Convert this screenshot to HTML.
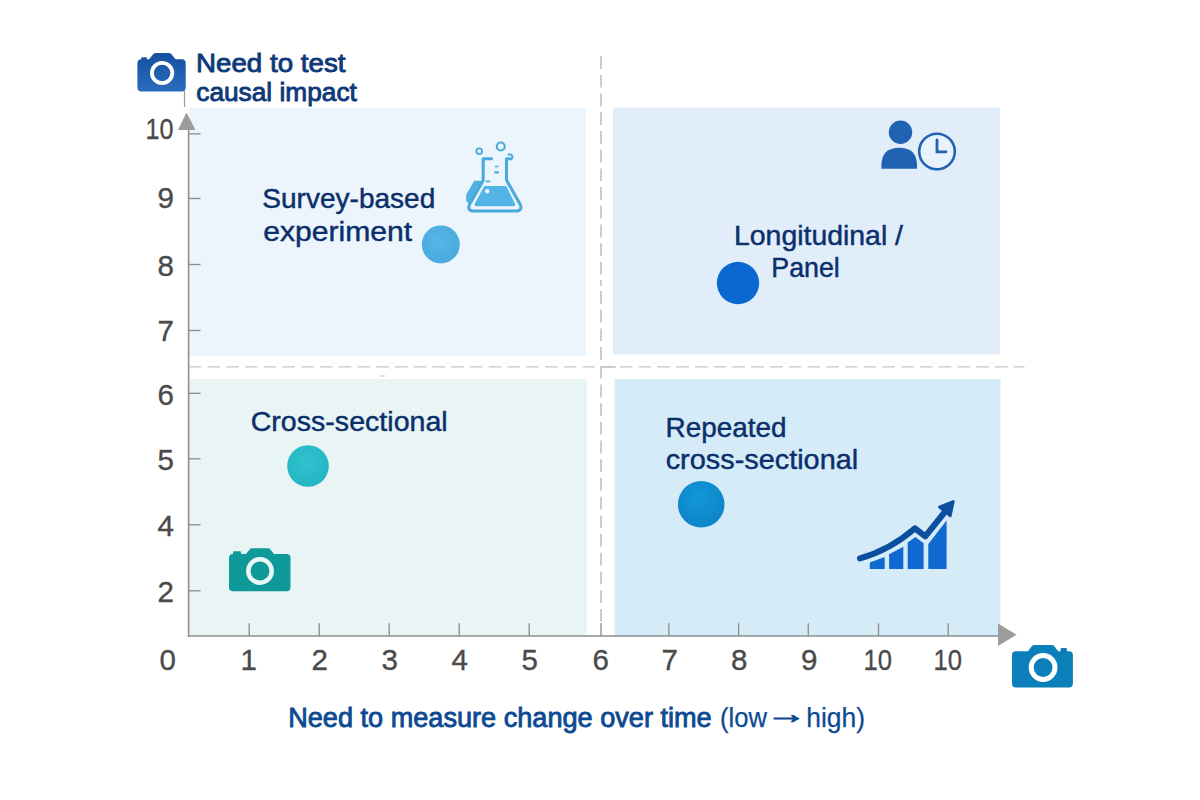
<!DOCTYPE html>
<html lang="en">
<head>
<meta charset="utf-8">
<title>Survey design quadrant chart</title>
<style>
  html,body{margin:0;padding:0;background:#ffffff;}
  body{width:1200px;height:800px;overflow:hidden;font-family:"Liberation Sans",sans-serif;}
  svg{display:block;}
  text{font-family:"Liberation Sans",sans-serif;}
  .num{font-size:29.5px;fill:#4a4a4a;stroke:#4a4a4a;stroke-width:0.35;}
  .lbl{font-size:27.5px;fill:#0b2f6b;stroke:#0b2f6b;stroke-width:0.45;}
  .ttl{font-size:26.5px;fill:#0c3a78;stroke:#0c3a78;stroke-width:0.9;}
  .xttl{font-size:27px;fill:#0c4a92;stroke:#0c4a92;stroke-width:0.25;}
</style>
</head>
<body>
<svg width="1200" height="800" viewBox="0 0 1200 800">
  <defs>
    <linearGradient id="gCamBlue" x1="0" y1="0" x2="0" y2="1">
      <stop offset="0" stop-color="#174f9f"/><stop offset="1" stop-color="#2a6dbd"/>
    </linearGradient>
    <radialGradient id="gDot1" cx="0.45" cy="0.4" r="0.7">
      <stop offset="0" stop-color="#57b6e6"/><stop offset="1" stop-color="#45a8dc"/>
    </radialGradient>
    <radialGradient id="gDot3" cx="0.45" cy="0.4" r="0.7">
      <stop offset="0" stop-color="#2fc3cf"/><stop offset="1" stop-color="#22b3c0"/>
    </radialGradient>
    <radialGradient id="gDot4" cx="0.45" cy="0.35" r="0.75">
      <stop offset="0" stop-color="#1397d8"/><stop offset="1" stop-color="#0a82c4"/>
    </radialGradient>
  </defs>

  <!-- quadrant panels -->
  <rect x="189" y="108" width="397" height="248" fill="#ecf5fc"/>
  <rect x="613" y="107.5" width="387" height="247" fill="#e1eefa"/>
  <rect x="189" y="379" width="398" height="257" fill="#e8f5f4"/>
  <rect x="614.5" y="379" width="386" height="257" fill="#d5ecf8"/>

  <!-- dashed dividers -->
  <line x1="601" y1="56.2" x2="601" y2="276" stroke="#c4c4c4" stroke-width="1.7" stroke-dasharray="12.7 6"/>
  <line x1="601" y1="280" x2="601" y2="286" stroke="#c4c4c4" stroke-width="1.7"/>
  <line x1="601" y1="291" x2="601" y2="623" stroke="#c4c4c4" stroke-width="1.7" stroke-dasharray="12.7 6"/>
  <line x1="188.7" y1="366.9" x2="1024.5" y2="366.9" stroke="#c6c6c6" stroke-width="1.4" stroke-dasharray="12.6 6.15"/>
  <line x1="601" y1="366.9" x2="616" y2="366.9" stroke="#c2c2c2" stroke-width="1.4"/>
  <line x1="380" y1="376" x2="385" y2="376" stroke="#bdbdbd" stroke-width="1"/>

  <!-- axes -->
  <line x1="188.6" y1="129" x2="188.6" y2="637" stroke="#8e8e8e" stroke-width="1.55"/>
  <line x1="187.8" y1="636" x2="1000" y2="636" stroke="#8e8e8e" stroke-width="1.55"/>
  <line x1="184.5" y1="91" x2="184.5" y2="107" stroke="#9a9a9a" stroke-width="1.2"/>
  <polygon points="186.5,112.5 178,130 195.5,130" fill="#9c9c9c"/>
  <polygon points="998,623.5 1016.5,634.8 998,646" fill="#9c9c9c"/>

  <!-- y ticks -->
  <g stroke="#8e8e8e" stroke-width="1.35">
    <line x1="188" y1="133.8" x2="200.5" y2="133.8"/>
    <line x1="188" y1="198.5" x2="200.5" y2="198.5"/>
    <line x1="188" y1="264.5" x2="200.5" y2="264.5"/>
    <line x1="188" y1="330.5" x2="200.5" y2="330.5"/>
    <line x1="188" y1="393.3" x2="200.5" y2="393.3"/>
    <line x1="188" y1="458.8" x2="200.5" y2="458.8"/>
    <line x1="188" y1="524.8" x2="200.5" y2="524.8"/>
    <line x1="188" y1="590.8" x2="200.5" y2="590.8"/>
  </g>
  <!-- x ticks -->
  <g stroke="#8e8e8e" stroke-width="1.35">
    <line x1="249.2" y1="623.3" x2="249.2" y2="636"/>
    <line x1="319.2" y1="623.3" x2="319.2" y2="636"/>
    <line x1="389.2" y1="623.3" x2="389.2" y2="636"/>
    <line x1="459.2" y1="623.3" x2="459.2" y2="636"/>
    <line x1="529.2" y1="623.3" x2="529.2" y2="636"/>
    <line x1="601" y1="623" x2="601" y2="636"/>
    <line x1="668.9" y1="623.3" x2="668.9" y2="636"/>
    <line x1="738.6" y1="623.3" x2="738.6" y2="636"/>
    <line x1="808.3" y1="623.3" x2="808.3" y2="636"/>
    <line x1="878.5" y1="623.3" x2="878.5" y2="636"/>
    <line x1="948.2" y1="623.3" x2="948.2" y2="636"/>
  </g>

  <!-- y numbers -->
  <g class="num" text-anchor="end">
    <text x="173.6" y="138.8" textLength="28" lengthAdjust="spacingAndGlyphs">10</text>
    <text x="173.8" y="207.5">9</text>
    <text x="173.8" y="275.5">8</text>
    <text x="173.8" y="340.5">7</text>
    <text x="173.8" y="404.7">6</text>
    <text x="173.8" y="470">5</text>
    <text x="173.8" y="536">4</text>
    <text x="173.8" y="602">2</text>
  </g>
  <!-- x numbers -->
  <g class="num" text-anchor="middle">
    <text x="167.6" y="669.6">0</text>
    <text x="248.6" y="669.6">1</text>
    <text x="319.6" y="669.6">2</text>
    <text x="389.6" y="669.6">3</text>
    <text x="459.6" y="669.6">4</text>
    <text x="529.6" y="669.6">5</text>
    <text x="600.6" y="669.6">6</text>
    <text x="669.6" y="669.6">7</text>
    <text x="739.1" y="669.6">8</text>
    <text x="809.1" y="669.6">9</text>
    <text x="877.7" y="669.6" textLength="28.500" lengthAdjust="spacingAndGlyphs">10</text>
    <text x="947.7" y="669.6" textLength="28.500" lengthAdjust="spacingAndGlyphs">10</text>
  </g>

  <!-- titles -->
  <text class="ttl" x="196" y="72" textLength="149.500" lengthAdjust="spacingAndGlyphs">Need to test</text>
  <text class="ttl" x="196.300" y="100.8" textLength="160.500" lengthAdjust="spacingAndGlyphs">causal impact</text>
  <text class="xttl" x="288.2" y="726.5"><tspan stroke-width="0.85" textLength="423.500" lengthAdjust="spacingAndGlyphs">Need to measure change over time</tspan></text>
  <text class="xttl" y="726.5"><tspan x="720" textLength="47" lengthAdjust="spacingAndGlyphs">(low</tspan><tspan x="765.5" dy="-3.6" stroke-width="0.9" textLength="41" lengthAdjust="spacingAndGlyphs">→</tspan><tspan x="806.2" dy="3.6" textLength="58.800" lengthAdjust="spacingAndGlyphs">high)</tspan></text>

  <!-- labels -->
  <text class="lbl" x="262.3" y="208.2" textLength="173" lengthAdjust="spacingAndGlyphs">Survey-based</text>
  <text class="lbl" x="263.2" y="240.6" textLength="149" lengthAdjust="spacingAndGlyphs">experiment</text>
  <text class="lbl" x="734" y="244.8" textLength="169" lengthAdjust="spacingAndGlyphs">Longitudinal /</text>
  <text class="lbl" x="771.3" y="276.9" textLength="68.500" lengthAdjust="spacingAndGlyphs">Panel</text>
  <text class="lbl" x="250.7" y="430.8" textLength="197" lengthAdjust="spacingAndGlyphs">Cross-sectional</text>
  <text class="lbl" x="665.6" y="436.7" textLength="121" lengthAdjust="spacingAndGlyphs">Repeated</text>
  <text class="lbl" x="665.7" y="468.8" textLength="192.500" lengthAdjust="spacingAndGlyphs">cross-sectional</text>

  <!-- data dots -->
  <circle cx="440.8" cy="244.4" r="19" fill="url(#gDot1)"/>
  <circle cx="738" cy="283" r="21.2" fill="#0b68d0"/>
  <circle cx="308" cy="466" r="20.8" fill="url(#gDot3)"/>
  <circle cx="701.2" cy="504.3" r="23.3" fill="url(#gDot4)"/>

  <!-- ICONS -->
  <!-- blue camera top-left -->
  <g id="camBlue">
    <path d="M141.2 59.3 V58 q0-0.8 0.8-0.8 h4.2 q0.8 0 0.8 0.8 v1.3 h2 l4.2-5 q1-1.3 2.6-1.3 h13 q1.6 0 2.6 1.3 l4.2 5 h6.1 q4 0 4 4 v24.3 q0 4-4 4 h-40.3 q-4 0-4-4 v-24.3 q0-4 4-4 z" fill="url(#gCamBlue)"/>
    <circle cx="162.1" cy="73" r="10.2" fill="none" stroke="#ffffff" stroke-width="3.8"/>
  </g>
  <!-- teal camera -->
  <g id="camTeal">
    <path d="M233 554 v-1.8 q0-1 1-1 h6 q1 0 1 1 v1.8 h5 l3.6-4.6 q0.9-1.1 2.3-1.1 h16.2 q1.400 0 2.300 1.100 l3.600 4.600 h12.500 q4 0 4 4 v29.200 q0 4-4 4 h-53.500 q-4 0-4-4 v-29.200 q0-4 4-4 z" fill="#109999"/>
    <circle cx="260" cy="571" r="11.7" fill="none" stroke="#e9f7f6" stroke-width="4.5"/>
  </g>
  <!-- blue camera bottom-right -->
  <g id="camBR">
    <path d="M1016 651.300 h12 l4-5.200 q0.900-1.100 2.300-1.100 h17.500 q1.400 0 2.300 1.100 l4 5.200 h2.500 v-2.300 q0-1 1-1 h4.300 q1 0 1 1 v2.300 h2 q4 0 4 4 v28.200 q0 4-4 4 h-52.900 q-4 0-4-4 v-28.200 q0-4 4-4 z" fill="#0b7fb9"/>
    <circle cx="1043.1" cy="667.5" r="11.9" fill="none" stroke="#ffffff" stroke-width="5"/>
  </g>

  <!-- flask -->
  <g id="flask" fill="none" stroke="#4aaadd" stroke-width="3.1" stroke-linecap="round" stroke-linejoin="round">
    <path d="M474.5 181.500 h6.500 l-11.500 22 l-2.600-3 v-5.500 z" fill="#50b1e3" stroke="#50b1e3" stroke-width="1.500"/>
    <path d="M491.500 158.700 h-8.300 v21.800 l-13.700 24 q-2.600 6.500 4.400 6.500 h41.900 q7 0 4.400-6.500 l-13.700-24.500 v-21.300 h3.300"/>
    <path d="M484.300 186 h22 l8.500 17.200 q1.300 3-2 3 h-35.800 q-3.300 0-2-3 z" fill="#52b5e6" stroke="none"/>
    <circle cx="479.200" cy="151.200" r="2.800" stroke-width="1.900"/>
    <circle cx="500.700" cy="146.500" r="4" stroke-width="2.100"/>
    <path d="M508.600 154.600 a2.600 2.600 0 1 1 2.400 4.700" stroke-width="2.100"/>
    <line x1="495.400" y1="166.600" x2="498" y2="166.600" stroke-width="1.500"/>
    <line x1="495.300" y1="172.300" x2="498.100" y2="172.300" stroke-width="2.300"/>
    <line x1="486.500" y1="181.400" x2="489.600" y2="181.400" stroke-width="1.600"/>
    <circle cx="487.200" cy="191.300" r="2.200" fill="#eef6fd" stroke="none"/>
  </g>

  <!-- person + clock -->
  <g id="personClock">
    <circle cx="900.500" cy="132.300" r="11.700" fill="#2163b3"/>
    <path d="M881.400 168.800 v-3 q0-18 17.800-18 q17.800 0 17.800 18 v3 z" fill="#2163b3"/>
    <circle cx="937" cy="151.500" r="17.800" fill="#e8f2fb" stroke="#2163b3" stroke-width="2.600"/>
    <path d="M937 140 v11.800 h9" fill="none" stroke="#2163b3" stroke-width="2.800" stroke-linecap="round" stroke-linejoin="miter"/>
  </g>

  <!-- growth chart -->
  <g id="growth">
    <polygon points="869.800,569.100 869.800,562.500 884.700,557 884.700,569.100" fill="#1069d1"/>
    <polygon points="889.100,569.100 889.100,554.300 903.300,546.700 903.300,569.100" fill="#1069d1"/>
    <polygon points="907.700,569.100 907.700,542.600 915.400,537.100 923.600,543.300 923.600,569.100" fill="#1069d1"/>
    <polygon points="928.300,569.100 928.300,544 946.600,520.600 946.600,569.100" fill="#1069d1"/>
    <path d="M860 558.400 Q890 550 915 528.300 L925.300 536.400 L946 510.500" fill="none" stroke="#0d4f9f" stroke-width="6.100" stroke-linecap="round" stroke-linejoin="round"/>
    <polygon points="953.400,501.400 939.300,507 950.300,516" fill="#0d4f9f" stroke="#0d4f9f" stroke-width="2.600" stroke-linejoin="round"/>
  </g>
</svg>
</body>
</html>
